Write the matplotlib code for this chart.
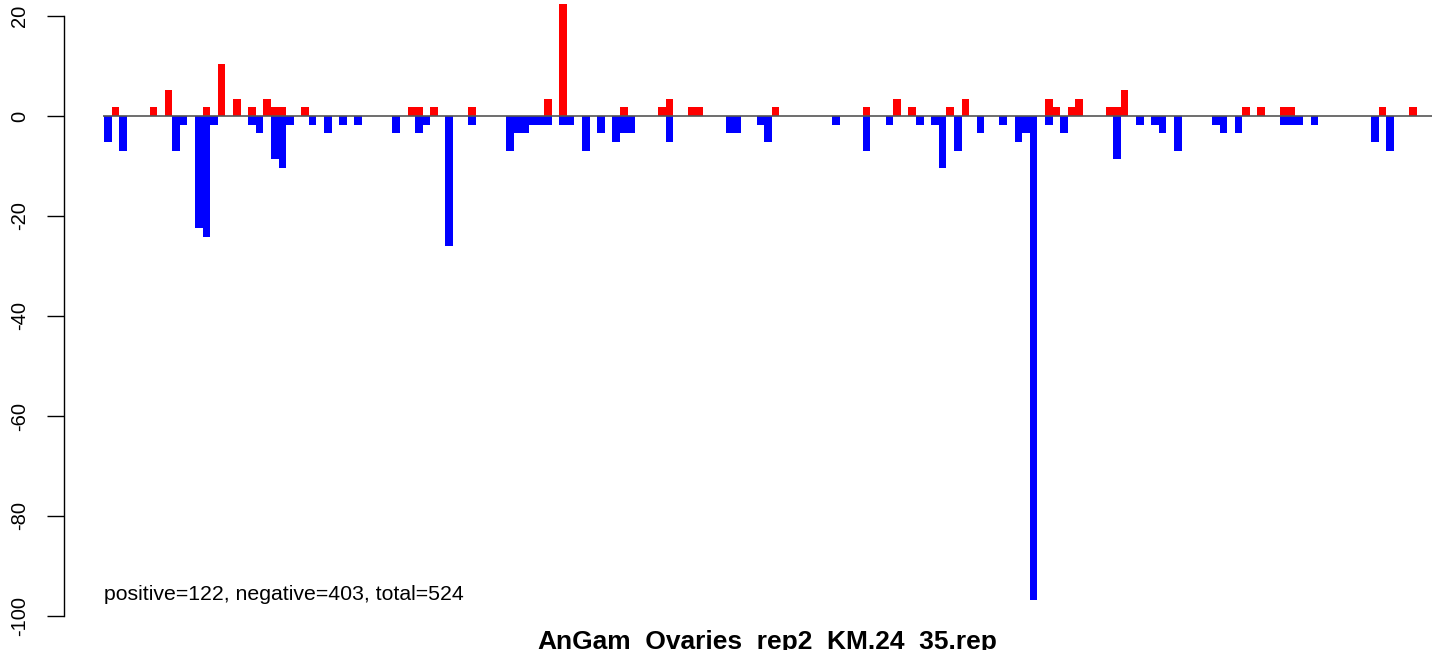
import matplotlib
matplotlib.use("Agg")
import matplotlib.pyplot as plt
import numpy as np

plt.rcParams['font.family'] = ['Liberation Sans', 'DejaVu Sans']
plt.rcParams['axes.unicode_minus'] = False

# bin positions and heights of the positive (red) bars
pos_bins = [1, 6, 8, 13, 15, 17, 19, 21, 22, 23, 26, 40, 41, 43, 48, 58, 60, 68,
            73, 74, 77, 78, 88, 100, 104, 106, 111, 113, 124, 125, 127, 128,
            132, 133, 134, 150, 152, 155, 156, 168, 172]
pos_vals = [1.73, 1.73, 5.19, 1.73, 10.38, 3.46, 1.73, 3.46, 1.73, 1.73, 1.73,
            1.73, 1.73, 1.73, 1.73, 3.46, 22.49, 1.73, 1.73, 3.46, 1.73, 1.73,
            1.73, 1.73, 3.46, 1.73, 1.73, 3.46, 3.46, 1.73, 1.73, 3.46, 1.73,
            1.73, 5.19, 1.73, 1.73, 1.73, 1.73, 1.73, 1.73]

# bin positions and heights of the negative (blue) bars
neg_bins = [0, 2, 9, 10, 12, 13, 14, 19, 20, 22, 23, 24, 27, 29, 31, 33, 38, 41,
            42, 45, 48, 53, 54, 55, 56, 57, 58, 60, 61, 63, 65, 67, 68, 69, 74,
            82, 83, 86, 87, 96, 100, 103, 107, 109, 110, 112, 115, 118, 120,
            121, 122, 124, 126, 133, 136, 138, 139, 141, 146, 147, 149, 155,
            156, 157, 159, 167, 169]
neg_vals = [-5.19, -6.92, -6.92, -1.73, -22.49, -24.22, -1.73, -1.73, -3.46,
            -8.65, -10.38, -1.73, -1.73, -3.46, -1.73, -1.73, -3.46, -3.46,
            -1.73, -25.95, -1.73, -6.92, -3.46, -3.46, -1.73, -1.73, -1.73,
            -1.73, -1.73, -6.92, -3.46, -5.19, -3.46, -3.46, -5.19, -3.46,
            -3.46, -1.73, -5.19, -1.73, -6.92, -1.73, -1.73, -1.73, -10.38,
            -6.92, -3.46, -1.73, -5.19, -3.46, -96.88, -1.73, -3.46, -8.65,
            -1.73, -1.73, -3.46, -6.92, -1.73, -3.46, -3.46, -1.73, -1.73,
            -1.73, -1.73, -5.19, -6.92]

n_bins = 175
yticks = [20, 0, -20, -40, -60, -80, -100]
title = "AnGam_Ovaries_rep2_KM.24_35.rep"
note = "positive=122, negative=403, total=524"

fig = plt.figure(figsize=(14.44, 6.5), dpi=100)
ax = fig.add_axes([103/1444, 29/650, 1329/1444, 618/650])

ax.bar(pos_bins, pos_vals, width=1, align='edge', color='#ff0000', linewidth=0)
ax.bar(neg_bins, neg_vals, width=1, align='edge', color='#0000ff', linewidth=0)
ax.axhline(0, color='#555555', linewidth=1.2)

ax.set_xlim(-0.13, n_bins)
ax.set_ylim(-101, 22.6)

for s in ['top', 'right', 'bottom']:
    ax.spines[s].set_visible(False)
ax.spines['left'].set_position(('outward', 28))
ax.spines['left'].set_bounds(-100, 20)
ax.spines['left'].set_linewidth(1)
ax.set_xticks([])
ax.set_yticks(yticks)
ax.set_yticklabels([str(t) for t in yticks], rotation=90, va='center', fontsize=14.5)
ax.tick_params(axis='y', length=12, width=1, pad=13)

fig.text(104/1444, 50/650, note, fontsize=15.3, ha='left', va='baseline')
# underscores fall below the bottom edge, as in the original
fig.text(767/1444, 1/650, title, fontsize=19, fontweight='bold', ha='center', va='baseline')

fig.savefig('out.png', dpi=100)
